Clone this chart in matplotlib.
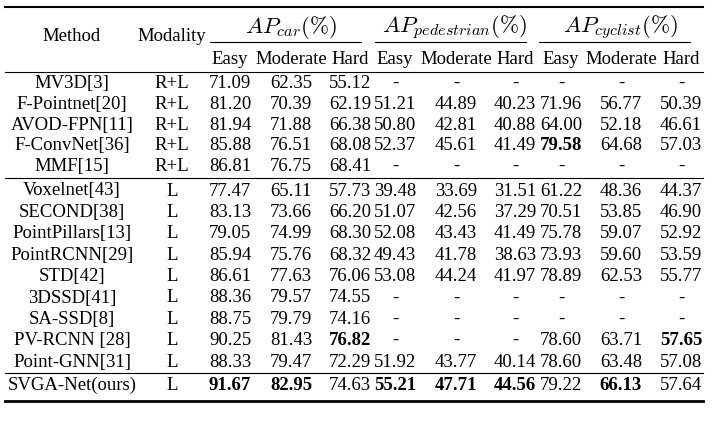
import matplotlib.pyplot as plt

plt.rcParams['font.family'] = ['Liberation Serif', 'DejaVu Serif']
plt.rcParams['mathtext.fontset'] = 'cm'

methods = ['MV3D[3]', 'F-Pointnet[20]', 'AVOD-FPN[11]', 'F-ConvNet[36]', 'MMF[15]',
           'Voxelnet[43]', 'SECOND[38]', 'PointPillars[13]', 'PointRCNN[29]', 'STD[42]',
           '3DSSD[41]', 'SA-SSD[8]', 'PV-RCNN [28]', 'Point-GNN[31]', 'SVGA-Net(ours)']
modality = ['R+L'] * 5 + ['L'] * 10

car = [['71.09', '62.35', '55.12'], ['81.20', '70.39', '62.19'], ['81.94', '71.88', '66.38'],
       ['85.88', '76.51', '68.08'], ['86.81', '76.75', '68.41'], ['77.47', '65.11', '57.73'],
       ['83.13', '73.66', '66.20'], ['79.05', '74.99', '68.30'], ['85.94', '75.76', '68.32'],
       ['86.61', '77.63', '76.06'], ['88.36', '79.57', '74.55'], ['88.75', '79.79', '74.16'],
       ['90.25', '81.43', '76.82'], ['88.33', '79.47', '72.29'], ['91.67', '82.95', '74.63']]
ped = [['-', '-', '-'], ['51.21', '44.89', '40.23'], ['50.80', '42.81', '40.88'],
       ['52.37', '45.61', '41.49'], ['-', '-', '-'], ['39.48', '33.69', '31.51'],
       ['51.07', '42.56', '37.29'], ['52.08', '43.43', '41.49'], ['49.43', '41.78', '38.63'],
       ['53.08', '44.24', '41.97'], ['-', '-', '-'], ['-', '-', '-'],
       ['-', '-', '-'], ['51.92', '43.77', '40.14'], ['55.21', '47.71', '44.56']]
cyc = [['-', '-', '-'], ['71.96', '56.77', '50.39'], ['64.00', '52.18', '46.61'],
       ['79.58', '64.68', '57.03'], ['-', '-', '-'], ['61.22', '48.36', '44.37'],
       ['70.51', '53.85', '46.90'], ['75.78', '59.07', '52.92'], ['73.93', '59.60', '53.59'],
       ['78.89', '62.53', '55.77'], ['-', '-', '-'], ['-', '-', '-'],
       ['78.60', '63.71', '57.65'], ['78.60', '63.48', '57.08'], ['79.22', '66.13', '57.64']]

# (row, column) of bold entries, columns 0..8 = car E/M/H, ped E/M/H, cyc E/M/H
bold = {(3, 6), (12, 2), (12, 8), (14, 0), (14, 1), (14, 3), (14, 4), (14, 5), (14, 7)}

fig = plt.figure(figsize=(7.16, 4.23), dpi=100)
ax = fig.add_axes([0, 0, 1, 1])
ax.set_xlim(0, 716)
ax.set_ylim(423, 0)
ax.axis('off')

fs = 13.5
col_x = [230, 291, 350, 395, 456, 515, 561, 621, 681]
# text baselines (pixels from top)
row_y = [88, 108.8, 129.6, 150.4, 171.2,
         195.5, 216.9, 238.3, 259.7, 281.1, 302.5, 323.9, 345.3, 366.7,
         389.5]

ax.text(72, 41, 'Method', ha='center', va='baseline', fontsize=fs)
ax.text(172, 41, 'Modality', ha='center', va='baseline', fontsize=fs)
heads = [r'$AP_{car}(\%)$', r'$AP_{pedestrian}(\%)$', r'$AP_{cyclist}(\%)$']
for h, xc in zip(heads, [291, 455, 621]):
    ax.text(xc, 33, h, ha='center', va='baseline', fontsize=16.5)
for i, xc in enumerate(col_x):
    ax.text(xc, 64.5, ['Easy', 'Moderate', 'Hard'][i % 3], ha='center', va='baseline', fontsize=fs)

for r in range(len(methods)):
    y = row_y[r]
    ax.text(72, y, methods[r], ha='center', va='baseline', fontsize=fs)
    ax.text(172, y, modality[r], ha='center', va='baseline', fontsize=fs)
    vals = car[r] + ped[r] + cyc[r]
    for c, v in enumerate(vals):
        ax.text(col_x[c], y, v, ha='center', va='baseline', fontsize=fs,
                fontweight='bold' if (r, c) in bold else 'normal')

ax.plot([5, 703], [7, 7], color='black', lw=1.5)
for x0, x1 in [(210, 361), (375, 526), (539, 690)]:
    ax.plot([x0, x1], [42, 42], color='black', lw=0.8)
for y in [72, 178, 373]:
    ax.plot([5, 703], [y, y], color='black', lw=0.8)
ax.plot([5, 703], [401, 401], color='black', lw=2.0)

fig.savefig('out.png', dpi=100)
